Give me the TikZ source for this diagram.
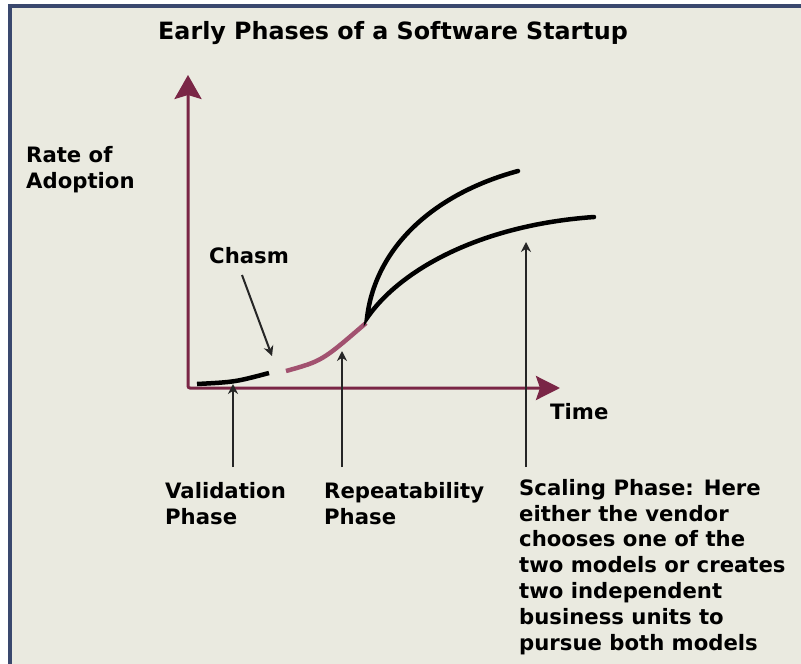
\documentclass[tikz,border=0pt]{standalone}
\usepackage{fontspec}
\setmainfont{DejaVu Sans}
\usetikzlibrary{arrows.meta}

\definecolor{frameblue}{RGB}{58,72,110}
\definecolor{paper}{RGB}{234,234,224}
\definecolor{axisred}{RGB}{122,38,70}
\definecolor{phasepink}{RGB}{162,82,112}

\begin{document}
\begin{tikzpicture}[x=1pt, y=-1pt,
	lbl/.style={anchor=base west, inner sep=0pt, align=left, font=\fontsize{21.2}{25.8}\selectfont\bfseries},
	axis/.style={line width=3pt, color=axisred, rounded corners=2pt},
	curve/.style={line width=4.5pt},
	pointer/.style={line width=2pt, color=black!85, -{Stealth[length=10pt, width=10pt]}}]
	% paper and frame
	\useasboundingbox (0,0) rectangle (801,664);
	\fill [white] (0,0) rectangle (801,664);
	\fill [paper] (10,6) rectangle (801,664);
	\draw [frameblue, line width=4pt] (10,664) -- (10,6) -- (801,6);

	% axes
	\coordinate (Ytop) at (188,75);
	\coordinate (O) at (188,388);
	\coordinate (Xend) at (560,388);
	\draw [axis, {Stealth[length=24pt, width=27pt, inset=4pt]}-{Stealth[length=24pt, width=24pt, inset=4pt]}] (Ytop) -- (O) -- (Xend);

	% texts (multi-line nodes sit on their last baseline)
	\node [lbl, font=\fontsize{23.8}{28}\selectfont\bfseries] (title) at (158,39) {Early Phases of a Software Startup};
	\node [lbl] (rate) at (26,188) {Rate of\\Adoption};
	\node [lbl] (chasm) at (209,263) {Chasm};
	\node [lbl] (time) at (550,419) {Time};
	\node [lbl] (val) at (165,524) {Validation\\Phase};
	\node [lbl] (rep) at (324,524) {Repeatability\\Phase};
	\node [lbl] (scal) at (519,650) {Scaling Phase: Here\\either the vendor\\chooses one of the\\two models or creates\\two independent\\business units to\\pursue both models};

	% phases
	\coordinate (V1) at (197,384);
	\coordinate (V2) at (269,373);
	\coordinate (R1) at (286,371);
	\coordinate (R2) at (366,323);
	\coordinate (S0) at (367,318);
	\coordinate (S1) at (518,171);
	\coordinate (S2) at (594,217);
	\draw [curve] (V1) .. controls (235,382) .. (V2);
	\draw [curve, phasepink] (R1) .. controls (322,361) .. (R2);
	\draw [curve, line cap=round] (S1) .. controls (430,195) and (375,250) .. (S0) .. controls (400,270) and (480,225) .. (S2);

	% pointers
	\coordinate (chasmfoot) at (242,275);
	\coordinate (chasmtip) at (272,356);
	\coordinate (valfoot) at (233,467);
	\coordinate (valtip) at (233,384);
	\coordinate (repfoot) at (342,467);
	\coordinate (reptip) at (342,351);
	\coordinate (scalfoot) at (526,467);
	\coordinate (scaltip) at (526,242);
	\draw [pointer] (chasmfoot) -- (chasmtip);
	\draw [pointer] (valfoot) -- (valtip);
	\draw [pointer] (repfoot) -- (reptip);
	\draw [pointer] (scalfoot) -- (scaltip);
\end{tikzpicture}
\end{document}
